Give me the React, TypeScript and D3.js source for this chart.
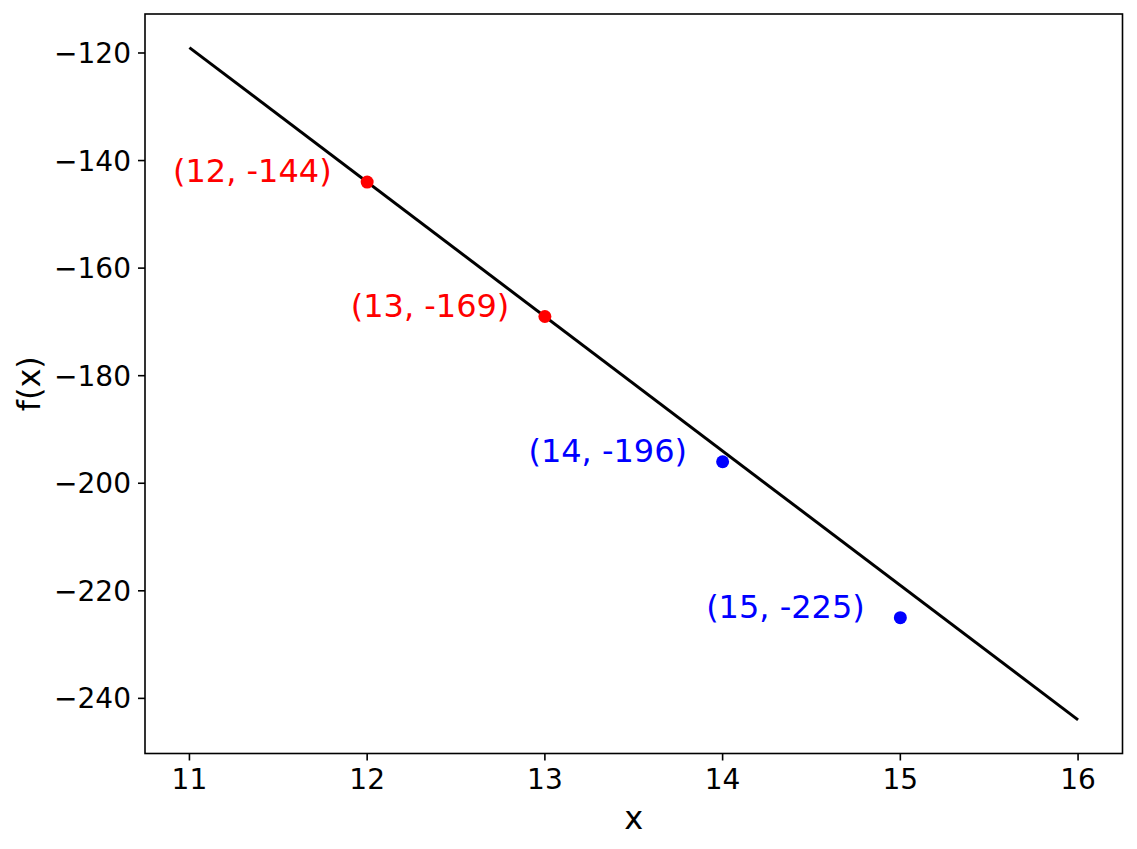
import React from "react";
import * as d3 from "d3";

const lineX = [11, 16];
const lineY = [-119, -244];
const pointX = [12, 13, 14, 15];
const pointY = [-144, -169, -196, -225];
const pointColor = ["#ff0000", "#ff0000", "#0000ff", "#0000ff"];
const pointLabel = ["(12, -144)", "(13, -169)", "(14, -196)", "(15, -225)"];
const xTicks = [11, 12, 13, 14, 15, 16];
const yTicks = [-120, -140, -160, -180, -200, -220, -240];

const W = 1137;
const H = 849;
const L = 145, R = 1122.5, T = 14, B = 753.5;
const FONT = "DejaVu Sans, sans-serif";

export default function App() {
  const x = d3.scaleLinear().domain([10.75, 16.25]).range([L, R]);
  const y = d3.scaleLinear().domain([-250.25, -112.75]).range([B, T]);
  const line = d3.line<number>().x((d) => x(lineX[d])).y((d) => y(lineY[d]));
  const fmt = (v: number) => (v < 0 ? "\u2212" + Math.abs(v) : String(v));
  return (
    <svg width={W} height={H} style={{ position: "absolute", left: 0, top: 0, background: "#fff" }} fontFamily={FONT}>
      <rect x={0} y={0} width={W} height={H} fill="#fff" />
      <path d={line([0, 1]) || ""} fill="none" stroke="#000" strokeWidth={3} />
      {pointX.map((px, i) => (
        <g key={i}>
          <circle cx={x(px)} cy={y(pointY[i])} r={6.5} fill={pointColor[i]} />
          <text x={x(px - 0.2)} y={y(pointY[i])} textAnchor="end" fontSize={32} fill={pointColor[i]}>
            {pointLabel[i]}
          </text>
        </g>
      ))}
      <rect x={L} y={T} width={R - L} height={B - T} fill="none" stroke="#000" strokeWidth={1.6} />
      {xTicks.map((t) => (
        <g key={t}>
          <line x1={x(t)} x2={x(t)} y1={B} y2={B + 7} stroke="#000" strokeWidth={1.6} />
          <text x={x(t)} y={B + 14} dy="0.76em" textAnchor="middle" fontSize={28} fill="#000">
            {fmt(t)}
          </text>
        </g>
      ))}
      {yTicks.map((t) => (
        <g key={t}>
          <line x1={L - 7} x2={L} y1={y(t)} y2={y(t)} stroke="#000" strokeWidth={1.6} />
          <text x={L - 14} y={y(t)} dy="0.36em" textAnchor="end" fontSize={28} fill="#000">
            {fmt(t)}
          </text>
        </g>
      ))}
      <text x={(L + R) / 2} y={829} textAnchor="middle" fontSize={32} fill="#000">x</text>
      <text transform={`translate(40, ${(T + B) / 2}) rotate(-90)`} textAnchor="middle" fontSize={32} fill="#000">f(x)</text>
    </svg>
  );
}
